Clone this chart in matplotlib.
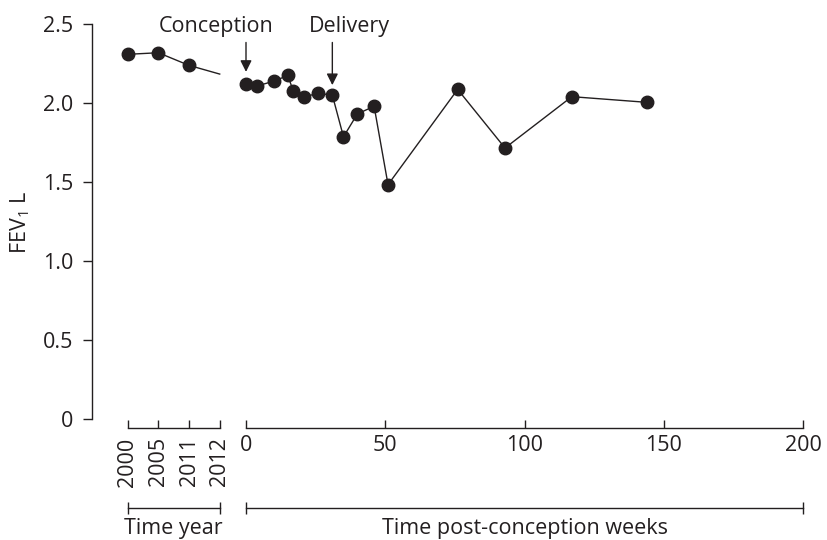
import matplotlib
matplotlib.use("Agg")
import matplotlib.pyplot as plt
import matplotlib.transforms as mtransforms

plt.rcParams['font.family'] = ['Open Sans', 'DejaVu Sans']

# ---- data ----
years = ['2000', '2005', '2011', '2012']
year_fev = [2.31, 2.32, 2.24, 2.185]
weeks = [0, 4, 10, 15, 17, 21, 26, 31, 35, 40, 46, 51, 76, 93, 117, 144]
week_fev = [2.12, 2.11, 2.14, 2.176, 2.077, 2.042, 2.063, 2.052, 1.788, 1.933,
            1.981, 1.485, 2.088, 1.717, 2.042, 2.006]
y_ticks = [0, 0.5, 1.0, 1.5, 2.0, 2.5]
y_ticklabels = ['0', '0.5', '1.0', '1.5', '2.0', '2.5']
week_ticks = [0, 50, 100, 150, 200]
events = ['Conception', 'Delivery']
event_weeks = [0, 31]

C = '#231f20'
FS = 15.5
W, H = 827, 540
fig = plt.figure(figsize=(W / 100, H / 100), dpi=100)


def box(x0, x1, ytop=24.3, ybot=419.3):
    return [x0 / W, (H - ybot) / H, (x1 - x0) / W, (ybot - ytop) / H]


# y axis
ax_y = fig.add_axes(box(92, 803))
ax_y.set_ylim(0, 2.5)
ax_y.set_xticks([])
for s in ['top', 'right', 'bottom']:
    ax_y.spines[s].set_visible(False)
ax_y.spines['left'].set_color(C)
ax_y.spines['left'].set_linewidth(1.0)
ax_y.set_yticks(y_ticks)
ax_y.set_yticklabels(y_ticklabels)
ax_y.tick_params(axis='y', direction='out', length=6.5, width=1.0, color=C,
                 labelsize=FS, labelcolor=C, pad=7)
ax_y.patch.set_visible(False)
ax_y.set_ylabel('FEV$_\\mathregular{1}$ L', fontsize=FS, color=C, labelpad=8)


def setup_x(ax):
    ax.set_ylim(0, 2.5)
    ax.patch.set_visible(False)
    for s in ['top', 'right', 'left']:
        ax.spines[s].set_visible(False)
    ax.spines['bottom'].set_position(('outward', 6))
    ax.spines['bottom'].set_color(C)
    ax.spines['bottom'].set_linewidth(1.0)
    ax.set_yticks([])
    ax.tick_params(axis='x', direction='in', length=6, width=1.0, color=C,
                   labelsize=FS, labelcolor=C)


# year axis
ax_yr = fig.add_axes(box(127.7, 219.7))
setup_x(ax_yr)
xi = list(range(len(years)))
ax_yr.set_xlim(0, len(years) - 1)
ax_yr.set_xticks(xi)
ax_yr.set_xticklabels(years, rotation=90)
ax_yr.tick_params(axis='x', pad=7)
ax_yr.plot(xi, year_fev, color=C, lw=1.0, marker='o', ms=9,
           markevery=[0, 1, 2], clip_on=False)

# week axis
ax_wk = fig.add_axes(box(246, 803))
setup_x(ax_wk)
ax_wk.set_xlim(0, 200)
ax_wk.set_xticks(week_ticks)
ax_wk.tick_params(axis='x', pad=5)
ax_wk.plot(weeks, week_fev, color=C, lw=1.0, marker='o', ms=9, clip_on=False)

# event annotations
ev_text_x = [-10.9, 37.2]
ev_tip = [2.199, 2.115]
for name, wk, tx, tip in zip(events, event_weeks, ev_text_x, ev_tip):
    ax_wk.text(tx, 2.449, name, ha='center', va='baseline', fontsize=FS,
               color=C, clip_on=False)
    ax_wk.annotate('', xy=(wk, tip), xytext=(wk, 2.385),
                   arrowprops=dict(arrowstyle='-|>', color=C, lw=1.0,
                                   mutation_scale=17, shrinkA=0, shrinkB=0),
                   annotation_clip=False)

# bottom brackets
yb = (H - 508) / H
for ax, (a, b), label in [(ax_yr, (0, len(years) - 1), 'Time year'),
                          (ax_wk, (0, 200), 'Time post-conception weeks')]:
    tr = mtransforms.blended_transform_factory(ax.transData, fig.transFigure)
    ax.plot([a, b], [yb, yb], color=C, lw=1.0, transform=tr, clip_on=False)
    ax.plot([a, b], [yb, yb], color=C, lw=0, marker='|', ms=8, mew=1.0,
            transform=tr, clip_on=False)
    ax.text((a + b) / 2, (H - 534) / H, label, ha='center', va='baseline',
            fontsize=FS, color=C, transform=tr)

fig.savefig('out.png', dpi=100)
